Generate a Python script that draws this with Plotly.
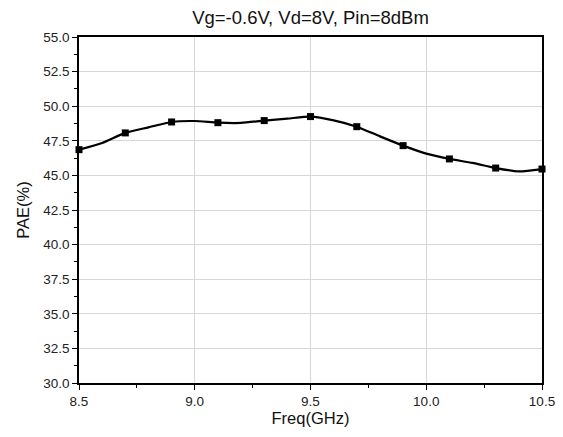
import plotly.graph_objects as go

freq = [8.5, 8.6, 8.7, 8.8, 8.9, 9.0, 9.1, 9.2, 9.3, 9.4, 9.5,
        9.6, 9.7, 9.8, 9.9, 10.0, 10.1, 10.2, 10.3, 10.4, 10.5]
pae = [46.86, 47.34, 48.07, 48.47, 48.86, 48.93, 48.81, 48.79, 48.96, 49.1, 49.25,
       48.98, 48.52, 47.82, 47.15, 46.57, 46.19, 45.9, 45.53, 45.29, 45.46]
y_ticks = [30.0, 32.5, 35.0, 37.5, 40.0, 42.5, 45.0, 47.5, 50.0, 52.5, 55.0]
x_ticks = [8.5, 9.0, 9.5, 10.0, 10.5]

fig = go.Figure()
fig.add_trace(go.Scatter(x=freq, y=pae, mode="lines",
                         line=dict(color="black", width=2.2, shape="spline", smoothing=0.6),
                         showlegend=False, cliponaxis=False))
fig.add_trace(go.Scatter(x=freq[::2], y=pae[::2], mode="markers",
                         marker=dict(symbol="square", color="black", size=7),
                         showlegend=False, cliponaxis=False))

font = "Liberation Sans, Arial, sans-serif"
fig.update_layout(
    width=555, height=429,
    margin=dict(l=71, r=21, t=29, b=54),
    paper_bgcolor="white", plot_bgcolor="white",
    font=dict(family=font, color="#222", size=13.5),
    title=dict(text="Vg=-0.6V, Vd=8V, Pin=8dBm", x=0.5, xref="paper", xanchor="center",
               y=0.977, yanchor="middle", font=dict(size=18.5, color="#111")),
    xaxis=dict(range=[8.5, 10.5], tickvals=x_ticks, ticktext=[f"{v:.1f}" for v in x_ticks],
               showgrid=True, gridcolor="#d6d6d6", gridwidth=1,
               showline=True, linecolor="black", linewidth=1.5, mirror=True,
               ticks="outside", ticklen=5, tickwidth=1.2, tickcolor="black",
               minor=dict(dtick=0.25, tick0=8.5, ticks="outside", ticklen=3, tickcolor="black", showgrid=False),
               zeroline=False, automargin=False,
               title=dict(text="Freq(GHz)", font=dict(size=16.5, color="#111"), standoff=4)),
    yaxis=dict(range=[30, 55], tickvals=y_ticks, ticktext=[f"{v:.1f}" for v in y_ticks],
               showgrid=True, gridcolor="#d6d6d6", gridwidth=1,
               showline=True, linecolor="black", linewidth=1.5, mirror=True,
               ticks="outside", ticklen=5, tickwidth=1.2, tickcolor="black",
               minor=dict(dtick=1.25, tick0=30, ticks="outside", ticklen=3, tickcolor="black", showgrid=False),
               zeroline=False, automargin=False,
               title=dict(text="PAE(%)", font=dict(size=16.5, color="#111"), standoff=9)),
)

fig.write_html("out.html")
